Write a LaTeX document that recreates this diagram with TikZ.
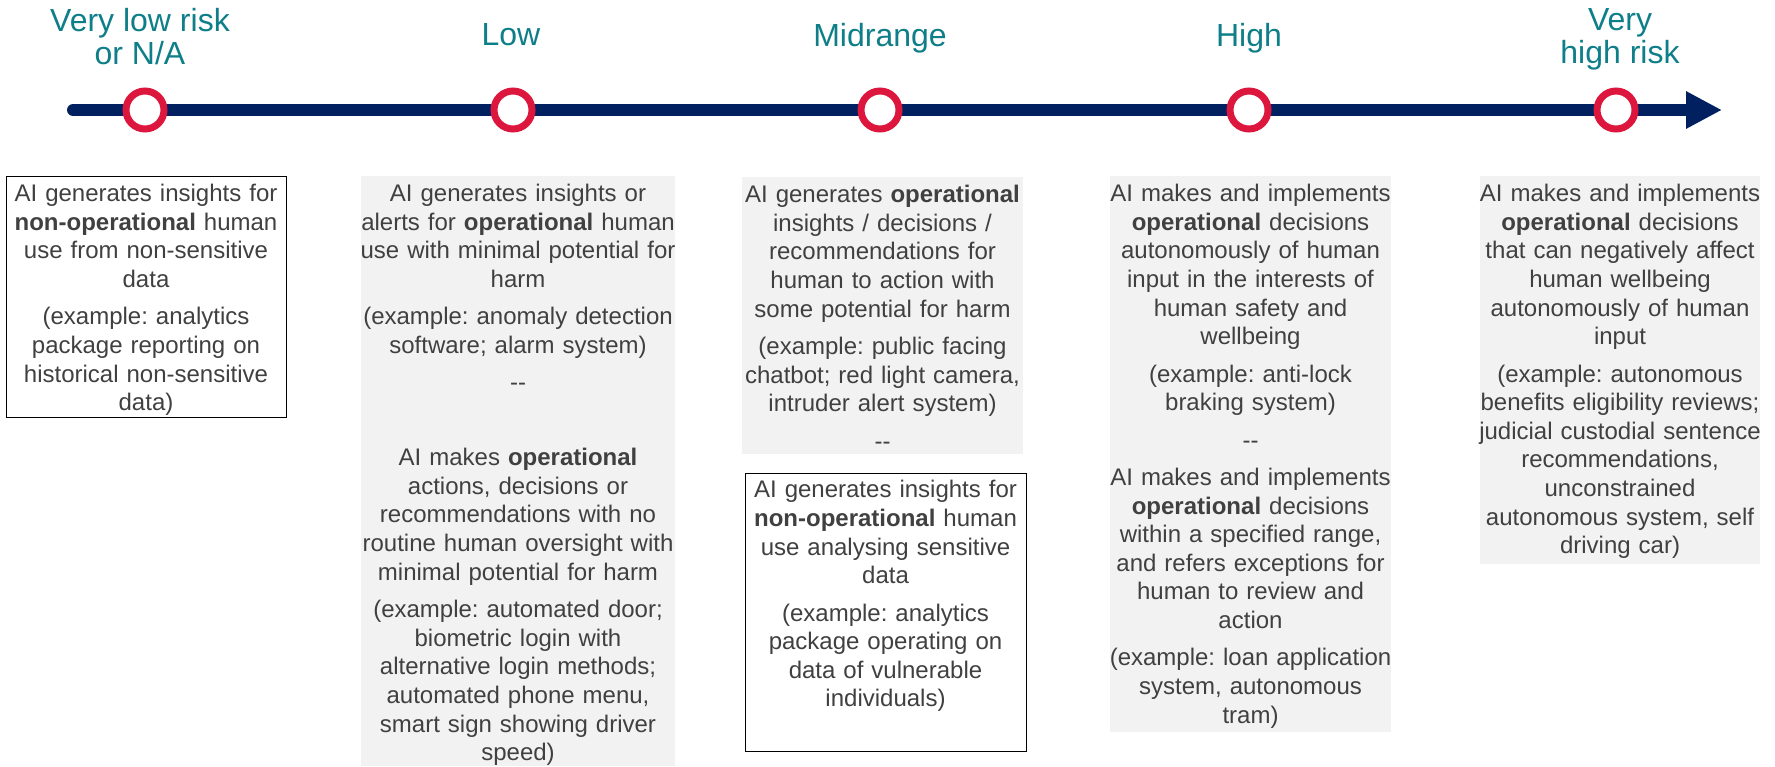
\documentclass[tikz,border=0pt]{standalone}
\usepackage{fontspec}
\setmainfont{Liberation Sans}
\usetikzlibrary{arrows.meta}
\definecolor{navy}{RGB}{0,32,96}
\definecolor{ringred}{RGB}{220,22,60}
\definecolor{teal1}{RGB}{14,126,136}
\definecolor{txt}{RGB}{64,64,64}
\definecolor{boxgray}{RGB}{242,242,242}
\newcommand{\pp}{\par\vspace{4.4pt}}
\newcommand{\dd}{{-}{-}}
\frenchspacing
\begin{document}
\begin{tikzpicture}[x=0.5pt,y=-0.5pt,
  title/.style={text=teal1, font=\fontsize{16pt}{16.5pt}\selectfont, align=center, inner sep=0pt, anchor=north},
  ring/.style={circle, draw=ringred, line width=3.5pt, fill=white, minimum size=19pt, inner sep=0pt},
  graybox/.style={fill=boxgray, draw=none, anchor=north west, inner sep=0pt},
  linebox/.style={fill=white, draw=black, line width=0.6pt, anchor=north west, inner sep=0pt},
  boxtext/.style={text=txt, font=\fontsize{12pt}{14.3pt}\selectfont, align=center, anchor=north, inner sep=0pt, text width=190pt},
]
\useasboundingbox (0,0) rectangle (1775,766);

% titles
\node[title] (tVL) at (140,8) {Very low risk\\or N/A};
\node[title] (tL) at (511,23) {Low};
\node[title] (tM) at (880,23) {Midrange};
\node[title] (tH) at (1249,23) {High};
\node[title] (tVH) at (1620,8.5) {Very\\high risk};

% axis
\coordinate (axs) at (73,110);
\coordinate (axe) at (1722,110);
\draw[navy, line width=6pt, line cap=round, -{Triangle[length=18pt,width=17.5pt]}] (axs) -- (axe);

% rings
\node[ring] (c1) at (145,110) {};
\node[ring] (c2) at (513,110) {};
\node[ring] (c3) at (880,110) {};
\node[ring] (c4) at (1249,110) {};
\node[ring] (c5) at (1616,110) {};

% boxes
\node[linebox, minimum width=140pt, minimum height=120.5pt] (b1) at (6,176) {};
\node[graybox, minimum width=157pt, minimum height=295pt] (b2) at (361,176) {};
\node[graybox, minimum width=140.5pt, minimum height=138.5pt] (b3) at (742,177) {};
\node[linebox, minimum width=140.5pt, minimum height=139pt] (b4) at (745,473) {};
\node[graybox, minimum width=140.5pt, minimum height=278pt] (b5) at (1110,176) {};
\node[graybox, minimum width=140pt, minimum height=194pt] (b6) at (1480,176) {};

% texts
\node[boxtext] (t1) at (146,184) {AI generates insights for\\\textbf{non-operational} human\\use from non-sensitive\\data\pp(example: analytics\\package reporting on\\historical non-sensitive\\data)};

\node[boxtext] (t2) at (518,184) {AI generates insights or\\alerts for \textbf{operational} human\\use with minimal potential for\\harm\pp(example: anomaly detection\\software; alarm system)\pp\dd\pp\mbox{}\pp AI makes \textbf{operational}\\actions, decisions or\\recommendations with no\\routine human oversight with\\minimal potential for harm\pp(example: automated door;\\biometric login with\\alternative login methods;\\automated phone menu,\\smart sign showing driver\\speed)};

\node[boxtext] (t3) at (882.5,185) {AI generates \textbf{operational}\\insights / decisions /\\recommendations for\\human to action with\\some potential for harm\pp(example: public facing\\chatbot; red light camera,\\intruder alert system)\pp\dd};

\node[boxtext] (t4) at (885.5,480) {AI generates insights for\\\textbf{non-operational} human\\use analysing sensitive\\data\pp(example: analytics\\package operating on\\data of vulnerable\\individuals)};

\node[boxtext] (t5) at (1250.5,184) {AI makes and implements\\\textbf{operational} decisions\\autonomously of human\\input in the interests of\\human safety and\\wellbeing\pp(example: anti-lock\\braking system)\pp\dd\pp AI makes and implements\\\textbf{operational} decisions\\within a specified range,\\and refers exceptions for\\human to review and\\action\pp(example: loan application\\system, autonomous\\tram)};

\node[boxtext] (t6) at (1620,184) {AI makes and implements\\\textbf{operational} decisions\\that can negatively affect\\human wellbeing\\autonomously of human\\input\pp(example: autonomous\\benefits eligibility reviews;\\judicial custodial sentence\\recommendations,\\unconstrained\\autonomous system, self\\driving car)};
\end{tikzpicture}
\end{document}
